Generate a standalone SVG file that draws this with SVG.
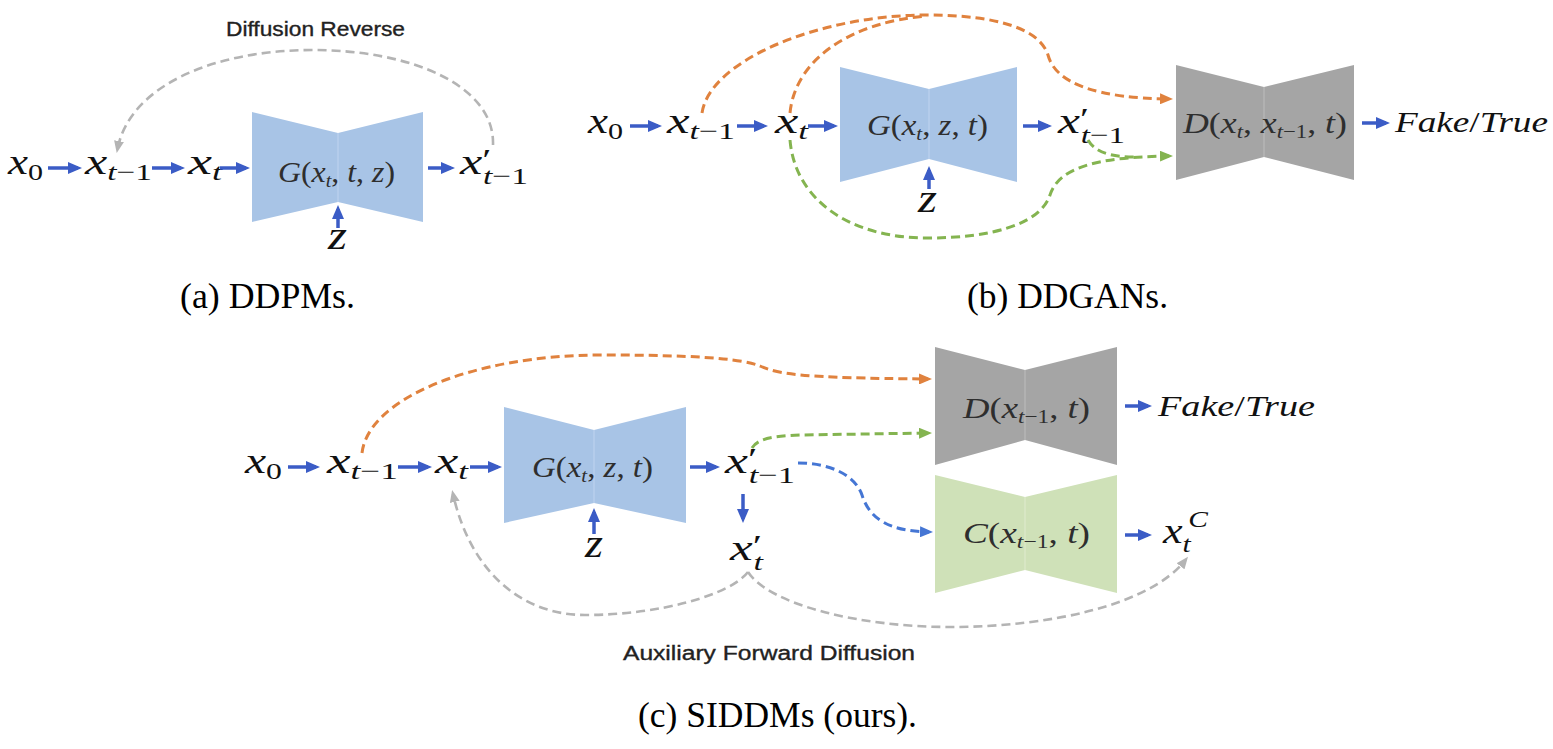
<svg xmlns="http://www.w3.org/2000/svg" width="1553" height="749" viewBox="0 0 1553 749">
<style>
.m{font-family:"Liberation Serif","Times New Roman",serif;font-size:36px;fill:#111}
.i{font-style:italic}
.sb{font-size:24px}
.pr{font-size:30px}
.z{font-size:40px;font-style:italic}
.g{font-size:30px;fill:#2e2e2e}
.gs{font-size:19px}
.ft{font-size:30px}
.lab{font-family:"Liberation Sans",Arial,sans-serif;font-size:20px;fill:#222;stroke:#222;stroke-width:0.35}
.cap{font-family:"Liberation Serif","Times New Roman",serif;font-size:35px;fill:#000}
.ba{fill:none;stroke:#3b5cc6;stroke-width:3.5;marker-end:url(#mB)}
.d{fill:none;stroke-width:3;stroke-dasharray:9 5}
.or{stroke:#e0823e;marker-end:url(#mO)}
.gr{stroke:#84b450;marker-end:url(#mG)}
.gy{stroke:#b4b4b4;stroke-width:2.6;marker-end:url(#mY)}
.bd{stroke:#4576d4;marker-end:url(#mD)}
.bG{fill:#a8c4e6}.sG{stroke:#bcd2ee;stroke-width:1.2}
.bD{fill:#a5a5a5}.sD{stroke:#b9b9b9;stroke-width:1.2}
.bC{fill:#cfe1b8}.sC{stroke:#dde9cc;stroke-width:1.2}
</style>
<defs>
<marker id="mB" viewBox="0 0 14 12" refX="10" refY="6" markerWidth="14" markerHeight="12" markerUnits="userSpaceOnUse" orient="auto"><path d="M0,0 L14,6 L0,12 z" fill="#3b5cc6"/></marker>
<marker id="mO" viewBox="0 0 13 11" refX="9" refY="5.5" markerWidth="13" markerHeight="11" markerUnits="userSpaceOnUse" orient="auto"><path d="M0,0 L13,5.5 L0,11 z" fill="#e0823e"/></marker>
<marker id="mG" viewBox="0 0 13 11" refX="9" refY="5.5" markerWidth="13" markerHeight="11" markerUnits="userSpaceOnUse" orient="auto"><path d="M0,0 L13,5.5 L0,11 z" fill="#84b450"/></marker>
<marker id="mY" viewBox="0 0 12 10" refX="8" refY="5" markerWidth="12" markerHeight="10" markerUnits="userSpaceOnUse" orient="auto"><path d="M0,0 L12,5 L0,10 z" fill="#b4b4b4"/></marker>
<marker id="mD" viewBox="0 0 13 11" refX="9" refY="5.5" markerWidth="13" markerHeight="11" markerUnits="userSpaceOnUse" orient="auto"><path d="M0,0 L13,5.5 L0,11 z" fill="#4576d4"/></marker>
</defs>
<rect width="1553" height="749" fill="#fff"/>

<!-- Panel (a) -->
<g id="a-G">
<polygon class="bG" points="252,112 338,133 423,112 423,222 338,202 252,222"/>
<line class="sG" x1="338" y1="133" x2="338" y2="202"/>
<text class="m g" x="278" y="182" textLength="117" lengthAdjust="spacingAndGlyphs"><tspan class="i">G</tspan>(<tspan class="i">x</tspan><tspan class="i gs" dy="5">t</tspan><tspan dy="-5">, </tspan><tspan class="i">t</tspan>, <tspan class="i">z</tspan>)</text>
</g>
<g id="a-x0"><text class="m" x="8" y="174" textLength="35" lengthAdjust="spacingAndGlyphs"><tspan class="i">x</tspan><tspan class="sb" dy="6">0</tspan></text></g>
<g id="a-xtm1"><text class="m" x="85" y="174" textLength="67" lengthAdjust="spacingAndGlyphs"><tspan class="i">x</tspan><tspan class="i sb" dy="6">t</tspan><tspan class="sb">−1</tspan></text></g>
<g id="a-xt"><text class="m" x="188" y="174" textLength="34" lengthAdjust="spacingAndGlyphs"><tspan class="i">x</tspan><tspan class="i sb" dy="6">t</tspan></text></g>
<g id="a-z"><text class="m z" x="328" y="249" textLength="19" lengthAdjust="spacingAndGlyphs">z</text></g>
<g id="a-xp"><text class="m" x="460" y="174" textLength="68" lengthAdjust="spacingAndGlyphs"><tspan class="i">x</tspan><tspan class="pr" dy="-5">′</tspan><tspan class="i sb" dx="-6" dy="15">t</tspan><tspan class="sb">−1</tspan></text></g>
<g id="a-label"><text class="lab" x="226" y="36" textLength="179" lengthAdjust="spacingAndGlyphs">Diffusion Reverse</text></g>
<g id="a-caption"><text class="cap" x="180" y="308" textLength="175" lengthAdjust="spacingAndGlyphs">(a) DDPMs.</text></g>

<!-- Panel (b) -->
<g id="b-G">
<polygon class="bG" points="840,67 929,89 1017,67 1017,182 929,159 840,182"/>
<line class="sG" x1="929" y1="89" x2="929" y2="159"/>
<text class="m g" x="867" y="135" textLength="121" lengthAdjust="spacingAndGlyphs"><tspan class="i">G</tspan>(<tspan class="i">x</tspan><tspan class="i gs" dy="5">t</tspan><tspan dy="-5">, </tspan><tspan class="i">z</tspan>, <tspan class="i">t</tspan>)</text>
</g>
<g id="b-D">
<polygon class="bD" points="1176,65 1264,87 1354,65 1354,180 1264,157 1176,180"/>
<line class="sD" x1="1264" y1="87" x2="1264" y2="157"/>
<text class="m g" x="1183" y="133" textLength="164" lengthAdjust="spacingAndGlyphs"><tspan class="i">D</tspan>(<tspan class="i">x</tspan><tspan class="i gs" dy="5">t</tspan><tspan dy="-5">, </tspan><tspan class="i">x</tspan><tspan class="i gs" dy="5">t</tspan><tspan class="gs">−1</tspan><tspan dy="-5">, </tspan><tspan class="i">t</tspan>)</text>
</g>
<g id="b-x0"><text class="m" x="588" y="133" textLength="35" lengthAdjust="spacingAndGlyphs"><tspan class="i">x</tspan><tspan class="sb" dy="6">0</tspan></text></g>
<g id="b-xtm1"><text class="m" x="667" y="133" textLength="68" lengthAdjust="spacingAndGlyphs"><tspan class="i">x</tspan><tspan class="i sb" dy="6">t</tspan><tspan class="sb">−1</tspan></text></g>
<g id="b-xt"><text class="m" x="775" y="133" textLength="33" lengthAdjust="spacingAndGlyphs"><tspan class="i">x</tspan><tspan class="i sb" dy="6">t</tspan></text></g>
<g id="b-z"><text class="m z" x="918" y="212" textLength="19" lengthAdjust="spacingAndGlyphs">z</text></g>
<g id="b-xp"><text class="m" x="1058" y="133" textLength="67" lengthAdjust="spacingAndGlyphs"><tspan class="i">x</tspan><tspan class="pr" dy="-5">′</tspan><tspan class="i sb" dx="-6" dy="15">t</tspan><tspan class="sb">−1</tspan></text></g>
<g id="b-out"><text class="m ft" x="1395" y="132" textLength="153" lengthAdjust="spacingAndGlyphs"><tspan class="i">Fake</tspan>/<tspan class="i">True</tspan></text></g>
<g id="b-caption"><text class="cap" x="967" y="308" textLength="201" lengthAdjust="spacingAndGlyphs">(b) DDGANs.</text></g>

<!-- Panel (c) -->
<g id="c-G">
<polygon class="bG" points="504,407 594,430 686,407 686,523 594,503 504,523"/>
<line class="sG" x1="594" y1="430" x2="594" y2="503"/>
<text class="m g" x="532" y="477" textLength="121" lengthAdjust="spacingAndGlyphs"><tspan class="i">G</tspan>(<tspan class="i">x</tspan><tspan class="i gs" dy="5">t</tspan><tspan dy="-5">, </tspan><tspan class="i">z</tspan>, <tspan class="i">t</tspan>)</text>
</g>
<g id="c-D">
<polygon class="bD" points="935,347 1025,370 1117,347 1117,465 1025,440 935,465"/>
<line class="sD" x1="1025" y1="370" x2="1025" y2="440"/>
<text class="m g" x="963" y="418" textLength="127" lengthAdjust="spacingAndGlyphs"><tspan class="i">D</tspan>(<tspan class="i">x</tspan><tspan class="i gs" dy="5">t</tspan><tspan class="gs">−1</tspan><tspan dy="-5">, </tspan><tspan class="i">t</tspan>)</text>
</g>
<g id="c-C">
<polygon class="bC" points="935,475 1025,497 1117,475 1117,593 1025,570 935,593"/>
<line class="sC" x1="1025" y1="497" x2="1025" y2="570"/>
<text class="m g" x="963" y="543" textLength="127" lengthAdjust="spacingAndGlyphs"><tspan class="i">C</tspan>(<tspan class="i">x</tspan><tspan class="i gs" dy="5">t</tspan><tspan class="gs">−1</tspan><tspan dy="-5">, </tspan><tspan class="i">t</tspan>)</text>
</g>
<g id="c-x0"><text class="m" x="245" y="473" textLength="37" lengthAdjust="spacingAndGlyphs"><tspan class="i">x</tspan><tspan class="sb" dy="6">0</tspan></text></g>
<g id="c-xtm1"><text class="m" x="327" y="473" textLength="71" lengthAdjust="spacingAndGlyphs"><tspan class="i">x</tspan><tspan class="i sb" dy="6">t</tspan><tspan class="sb">−1</tspan></text></g>
<g id="c-xt"><text class="m" x="435" y="473" textLength="33" lengthAdjust="spacingAndGlyphs"><tspan class="i">x</tspan><tspan class="i sb" dy="6">t</tspan></text></g>
<g id="c-z"><text class="m z" x="585" y="557" textLength="18" lengthAdjust="spacingAndGlyphs">z</text></g>
<g id="c-xp"><text class="m" x="725" y="473" textLength="70" lengthAdjust="spacingAndGlyphs"><tspan class="i">x</tspan><tspan class="pr" dy="-5">′</tspan><tspan class="i sb" dx="-6" dy="15">t</tspan><tspan class="sb">−1</tspan></text></g>
<g id="c-xpt"><text class="m" x="730" y="560" textLength="33" lengthAdjust="spacingAndGlyphs"><tspan class="i">x</tspan><tspan class="pr" dy="-5">′</tspan><tspan class="i sb" dx="-6" dy="15">t</tspan></text></g>
<g id="c-out"><text class="m ft" x="1158" y="416" textLength="157" lengthAdjust="spacingAndGlyphs"><tspan class="i">Fake</tspan>/<tspan class="i">True</tspan></text></g>
<g id="c-xc"><text class="m" x="1163" y="543" textLength="45" lengthAdjust="spacingAndGlyphs"><tspan class="i">x</tspan><tspan class="i sb" dy="9">t</tspan><tspan class="i sb" dx="-2" dy="-25">C</tspan></text></g>
<g id="c-label"><text class="lab" x="623" y="660" textLength="292" lengthAdjust="spacingAndGlyphs">Auxiliary Forward Diffusion</text></g>
<g id="c-caption"><text class="cap" x="638" y="727" textLength="279" lengthAdjust="spacingAndGlyphs">(c) SIDDMs (ours).</text></g>

<!-- Connectors -->
<g id="connectors">
<path class="ba" d="M48,168 H78"/>
<path class="ba" d="M152,168 H181"/>
<path class="ba" d="M220,168 H246"/>
<path class="ba" d="M428,168 H451"/>
<path class="ba" d="M338,228 V209"/>
<path class="d gy" d="M493,145 C495,85 410,50 313,50 C215,50 130,85 117.5,149"/>

<path class="ba" d="M630,126 H658"/>
<path class="ba" d="M737,126 H764"/>
<path class="ba" d="M808,126 H834"/>
<path class="ba" d="M1023,126 H1048"/>
<path class="ba" d="M929,189 V170"/>
<path class="ba" d="M1362,123 H1386"/>
<path class="d or" d="M702,113 C710,60 820,15 927,15 C1000,15 1040,30 1048,55 C1056,85 1100,98 1169,99"/>
<path class="d or" style="marker-end:none" d="M790,113 C795,60 850,22 927,16"/>
<path class="d gr" d="M790,140 C795,200 850,238 927,238 C990,238 1040,225 1050,195 C1058,170 1090,157 1169,156"/>
<path class="d gr" style="marker-end:none" d="M1088,140 C1095,152 1110,157 1135,157"/>

<path class="ba" d="M288,467 H316"/>
<path class="ba" d="M398,467 H428"/>
<path class="ba" d="M470,467 H498"/>
<path class="ba" d="M690,467 H716"/>
<path class="ba" d="M594,534 V512"/>
<path class="ba" d="M743,494 V519"/>
<path class="ba" d="M1125,406 H1148"/>
<path class="ba" d="M1125,535 H1148"/>
<path class="d or" d="M362,453 C368,400 470,355 602,355 C690,355 740,358 760,366 C778,374 800,378 928,379"/>
<path class="d gr" d="M752,448 C758,438 775,436 800,435 L928,433"/>
<path class="d bd" d="M798,463 C830,463 855,475 862,495 C870,520 890,531 929,532"/>
<path class="d gy" d="M748,572 C730,595 660,615 585,615 C520,615 470,570 453,494"/>
<path class="d gy" d="M748,572 C770,605 860,627 950,627 C1050,627 1150,605 1185.5,560"/>
</g>
</svg>
